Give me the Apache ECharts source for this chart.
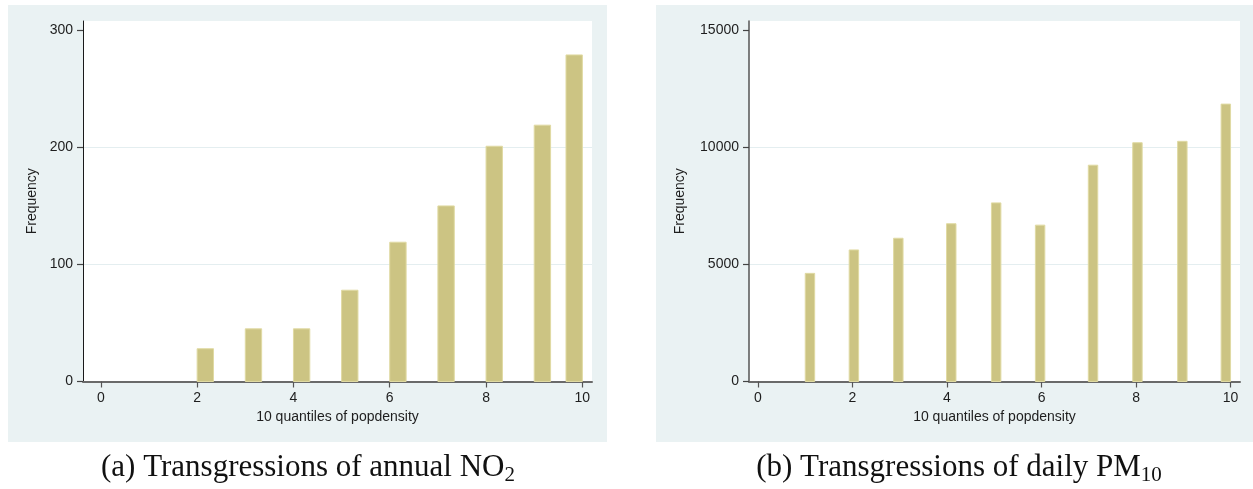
<!DOCTYPE html>
<html>
<head>
<meta charset="UTF-8">
<title>Transgressions by popdensity quantile</title>
<script src="https://cdn.jsdelivr.net/npm/echarts@6/dist/echarts.min.js"></script>
<style>
  html, body { margin: 0; padding: 0; background: #fff; }
  #main { width: 1253px; height: 489px; }
</style>
</head>
<body>
<div id="main"></div>
<script>
// (a) annual NO2 - histogram bins and frequencies
var no2BinStart = [2, 3, 4, 5, 6, 7, 8, 9, 9.66];
var no2BinEnd   = [2.34, 3.34, 4.34, 5.34, 6.34, 7.34, 8.34, 9.34, 10];
var no2Freq     = [28, 45, 45, 78, 119, 150, 201, 219, 279];

// (b) daily PM10
var pm10BinStart = [1.0, 1.93, 2.87, 3.99, 4.94, 5.87, 6.99, 7.93, 8.88, 9.8];
var pm10BinEnd   = [1.2, 2.13, 3.07, 4.19, 5.14, 6.07, 7.19, 8.13, 9.08, 10.0];
var pm10Freq     = [4620, 5620, 6120, 6740, 7630, 6680, 9240, 10200, 10260, 11850];

var xTicks = [0, 2, 4, 6, 8, 10];
var no2YTicks = [0, 100, 200, 300];
var pm10YTicks = [0, 5000, 10000, 15000];

var xTitle = '10 quantiles of popdensity';
var yTitle = 'Frequency';

var chart = echarts.init(document.getElementById('main'));

function zip(a, b, c) {
    var out = [];
    for (var i = 0; i < a.length; i++) out.push([a[i], b[i], c[i]]);
    return out;
}

// draws one histogram bar from bin start to bin end
function renderBin(params, api) {
    var p0 = api.coord([api.value(0), api.value(2)]);
    var p1 = api.coord([api.value(1), 0]);
    return {
        type: 'rect',
        shape: { x: p0[0], y: p0[1], width: p1[0] - p0[0], height: p1[1] - p0[1] },
        style: { fill: '#ccc483', stroke: '#e0daa3', lineWidth: 1 }
    };
}

var labelFont = { color: '#1e1e1e', fontSize: 14, fontFamily: 'Liberation Sans' };

function plain(v) { return String(v); }

function xAxisOpt(idx, min) {
    return {
        type: 'value', gridIndex: idx, min: min, max: 10.2,
        name: xTitle, nameLocation: 'middle', nameGap: 24,
        nameTextStyle: labelFont,
        axisLine: { show: true, onZero: false, lineStyle: { color: '#6a6a6a', width: 2 } },
        axisTick: { show: true, length: 6, customValues: xTicks, lineStyle: { color: '#555', width: 1.2 } },
        axisLabel: Object.assign({ margin: 10, customValues: xTicks, formatter: plain }, labelFont),
        splitLine: { show: false }
    };
}

function yAxisOpt(idx, max, interval, ticks, gap, lineColor, lineWidth) {
    return {
        type: 'value', gridIndex: idx, min: 0, max: max, interval: interval,
        name: yTitle, nameLocation: 'middle', nameGap: gap,
        nameTextStyle: labelFont,
        axisLine: { show: true, onZero: false, lineStyle: { color: lineColor, width: lineWidth } },
        axisTick: { show: true, length: 6, customValues: ticks, lineStyle: { color: '#444', width: 1.2 } },
        axisLabel: Object.assign({ margin: 10, customValues: ticks, formatter: plain }, labelFont),
        splitLine: { show: true, showMaxLine: false, showMinLine: false,
                     lineStyle: { color: '#e4eef0', width: 1 } }
    };
}

function caption(text, sub, x) {
    return {
        text: '{m|' + text + '}{s|' + sub + '}',
        left: x, top: 444, textAlign: 'center',
        textStyle: {
            fontWeight: 'normal',
            rich: {
                m: { fontFamily: 'Liberation Serif', fontSize: 31, fontWeight: 'normal',
                     color: '#111', lineHeight: 37 },
                s: { fontFamily: 'Liberation Serif', fontSize: 21, fontWeight: 'normal',
                     color: '#111', lineHeight: 22, verticalAlign: 'bottom' }
            }
        }
    };
}

chart.setOption({
    backgroundColor: '#ffffff',
    animation: false,
    title: [
        caption('(a) Transgressions of annual NO', '2', 303),
        caption('(b) Transgressions of daily PM', '10', 954)
    ],
    graphic: [
        { type: 'rect', z: -10, shape: { x: 8, y: 5, width: 599, height: 437 }, style: { fill: '#eaf2f3' } },
        { type: 'rect', z: -10, shape: { x: 656, y: 5, width: 597, height: 437 }, style: { fill: '#eaf2f3' } }
    ],
    grid: [
        { left: 83, right: 661, top: 21, bottom: 107.5, show: true,
          backgroundColor: '#ffffff', borderWidth: 0 },
        { left: 749, right: 13, top: 21, bottom: 107.5, show: true,
          backgroundColor: '#ffffff', borderWidth: 0 }
    ],
    xAxis: [ xAxisOpt(0, -0.37), xAxisOpt(1, -0.19) ],
    yAxis: [
        yAxisOpt(0, 308, 100, no2YTicks, 44, '#1a1a1a', 1),
        yAxisOpt(1, 15400, 5000, pm10YTicks, 62, '#555', 1.5)
    ],
    series: [
        { type: 'custom', xAxisIndex: 0, yAxisIndex: 0, renderItem: renderBin,
          encode: { x: [0, 1], y: 2 }, data: zip(no2BinStart, no2BinEnd, no2Freq) },
        { type: 'custom', xAxisIndex: 1, yAxisIndex: 1, renderItem: renderBin,
          encode: { x: [0, 1], y: 2 }, data: zip(pm10BinStart, pm10BinEnd, pm10Freq) }
    ]
});
</script>
</body>
</html>
